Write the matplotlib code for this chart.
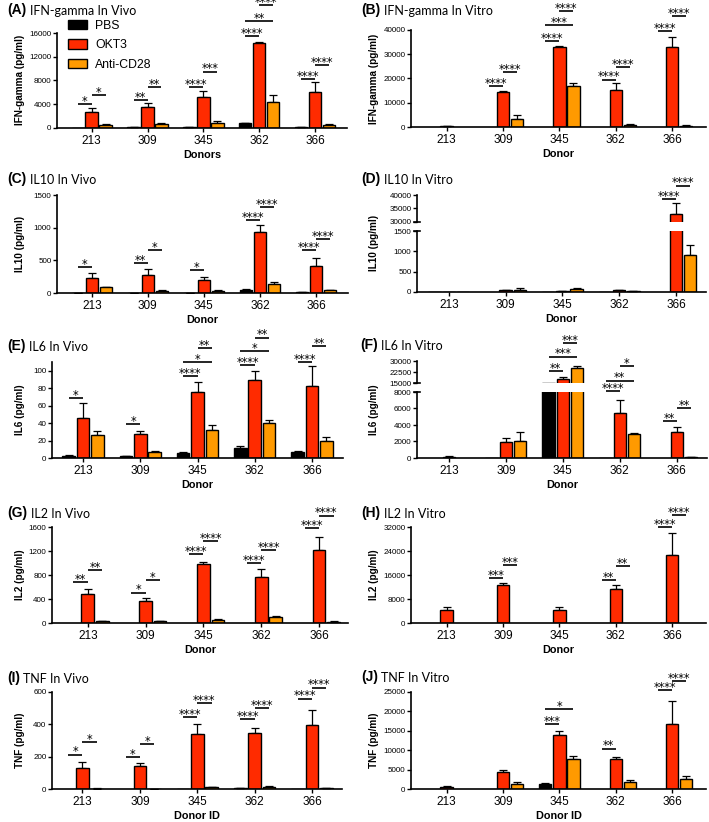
import numpy as np
import matplotlib
matplotlib.use("Agg")
import matplotlib.pyplot as plt

plt.rcParams["font.family"] = ["Liberation Sans", "DejaVu Sans"]

W, H = 709, 822

DONORS = ["213", "309", "345", "362", "366"]
GROUPS = ["PBS", "OKT3", "Anti-CD28"]
COLORS = ["#000000", "#FF2B00", "#FF9A00"]
OFFSETS = [-0.25, 0.0, 0.25]
BAR_W = 0.22

# rows of each *_MEAN / *_SD: PBS, OKT3, Anti-CD28 (SD drawn upward only)
# *_SIG entries: (donor index, group a, group b, line height, stars)

IFNG_VIVO_MEAN = [[50, 100, 100, 800, 100],
                  [2700, 3600, 5200, 14300, 6100],
                  [500, 700, 900, 4400, 500]]
IFNG_VIVO_SD = [[0, 50, 50, 100, 50],
                [700, 600, 1000, 200, 1700],
                [100, 200, 300, 1100, 200]]
IFNG_VIVO_SIG = [(0, 0, 1, 4000, "*"), (0, 1, 2, 5600, "*"),
                 (1, 0, 1, 4700, "**"), (1, 1, 2, 6850, "**"),
                 (2, 0, 1, 6850, "****"), (2, 1, 2, 9500, "***"),
                 (3, 0, 1, 15450, "****"), (3, 0, 2, 17980, "**"), (3, 1, 2, 20640, "****"),
                 (4, 0, 1, 8250, "****"), (4, 1, 2, 10630, "****")]

IFNG_VITRO_MEAN = [[0, 0, 0, 0, 0],
                   [300, 14500, 32800, 15200, 32800],
                   [0, 3300, 17000, 900, 600]]
IFNG_VITRO_SD = [[0, 0, 0, 0, 0],
                 [100, 200, 400, 3000, 4200],
                 [0, 1700, 1300, 300, 300]]
IFNG_VITRO_SIG = [(1, 0, 1, 16770, "****"), (1, 1, 2, 22680, "****"),
                  (2, 0, 1, 35330, "****"), (2, 0, 2, 41920, "***"), (2, 1, 2, 47700, "****"),
                  (3, 0, 1, 19520, "****"), (3, 1, 2, 24600, "****"),
                  (4, 0, 1, 39450, "****"), (4, 1, 2, 45640, "****")]

IL10_VIVO_MEAN = [[5, 5, 5, 45, 10],
                  [225, 280, 200, 930, 420],
                  [85, 30, 35, 140, 40]]
IL10_VIVO_SD = [[2, 2, 2, 10, 5],
                [75, 80, 50, 105, 115],
                [10, 15, 5, 35, 10]]
IL10_VIVO_SIG = [(0, 0, 1, 400, "*"), (1, 0, 1, 460, "**"), (1, 1, 2, 655, "*"),
                 (2, 0, 1, 350, "*"), (3, 0, 1, 1115, "****"), (3, 1, 2, 1320, "****"),
                 (4, 0, 1, 655, "****"), (4, 1, 2, 825, "****")]

IL10_VITRO_MEAN = [[5, 0, 5, 5, 0],
                   [5, 50, 30, 50, 33000],
                   [5, 60, 80, 30, 920]]
IL10_VITRO_SD = [[0, 0, 0, 0, 0],
                 [0, 10, 5, 10, 4000],
                 [0, 40, 10, 5, 230]]
IL10_VITRO_SIG = [(4, 0, 1, 38400, "****"), (4, 1, 2, 43500, "****")]

IL6_VIVO_MEAN = [[2, 2, 5.5, 12, 6.5],
                 [46, 27, 76, 89, 82.5],
                 [26, 6.5, 32, 40, 20]]
IL6_VIVO_SD = [[1, 0.5, 1, 2, 1],
               [17, 4, 11, 11, 22.5],
               [5, 1, 6, 4, 3.5]]
IL6_VIVO_SIG = [(0, 0, 1, 68.4, "*"), (1, 0, 1, 39.2, "*"),
                (2, 0, 1, 94.3, "****"), (2, 0, 2, 110.3, "*"), (2, 1, 2, 125.5, "**"),
                (3, 0, 1, 106.5, "****"), (3, 0, 2, 122.4, "*"), (3, 1, 2, 138, "**"),
                (4, 0, 1, 110.3, "****"), (4, 1, 2, 128.5, "**")]

IL6_VITRO_MEAN = [[0, 50, 15100, 50, 0],
                  [150, 1950, 17800, 5500, 3150],
                  [0, 2050, 25500, 2950, 100]]
IL6_VITRO_SD = [[0, 0, 0, 0, 0],
                [50, 450, 1000, 1500, 550],
                [0, 1050, 900, 100, 30]]
IL6_VITRO_SIG = [(2, 0, 1, 23080, "**"), (2, 0, 2, 33000, "***"), (2, 1, 2, 42230, "***"),
                 (3, 0, 1, 8120, "****"), (3, 0, 2, 16600, "**"), (3, 1, 2, 26540, "*"),
                 (4, 0, 1, 4470, "**"), (4, 1, 2, 6010, "**")]

IL2_VIVO_MEAN = [[0, 0, 0, 0, 0],
                 [480, 365, 980, 760, 1220],
                 [30, 30, 50, 95, 25]]
IL2_VIVO_SD = [[0, 0, 0, 0, 0],
               [90, 50, 40, 135, 220],
               [10, 10, 20, 20, 15]]
IL2_VIVO_SIG = [(0, 0, 1, 678, "**"), (0, 1, 2, 883, "**"),
                (1, 0, 1, 506, "*"), (1, 1, 2, 722, "*"),
                (2, 0, 1, 1150, "****"), (2, 1, 2, 1361, "****"),
                (3, 0, 1, 994, "****"), (3, 1, 2, 1217, "****"),
                (4, 0, 1, 1583, "****"), (4, 1, 2, 1789, "****")]

IL2_VITRO_MEAN = [[0, 0, 0, 0, 0],
                  [4500, 12800, 4500, 11200, 22800],
                  [0, 0, 0, 0, 0]]
IL2_VITRO_SD = [[0, 0, 0, 0, 0],
                [900, 500, 1000, 1600, 7200],
                [0, 0, 0, 0, 0]]
IL2_VITRO_SIG = [(1, 0, 1, 15000, "***"), (1, 1, 2, 19440, "***"),
                 (3, 0, 1, 14440, "**"), (3, 1, 2, 18890, "**"),
                 (4, 0, 1, 31890, "****"), (4, 1, 2, 36110, "****")]

TNF_VIVO_MEAN = [[0, 0, 2, 8, 2],
                 [130, 145, 340, 345, 395],
                 [3, 2, 10, 15, 5]]
TNF_VIVO_SD = [[0, 0, 0, 1, 0],
               [35, 13, 62, 35, 95],
               [1, 1, 2, 5, 1]]
TNF_VIVO_SIG = [(0, 0, 1, 213, "*"), (0, 1, 2, 290, "*"),
                (1, 0, 1, 197, "*"), (1, 1, 2, 279, "*"),
                (2, 0, 1, 447, "****"), (2, 1, 2, 534, "****"),
                (3, 0, 1, 434, "****"), (3, 1, 2, 503, "****"),
                (4, 0, 1, 559, "****"), (4, 1, 2, 627, "****")]

TNF_VITRO_MEAN = [[0, 0, 1400, 0, 0],
                  [600, 4400, 13800, 7700, 16800],
                  [0, 1300, 7800, 1700, 2600]]
TNF_VITRO_SD = [[0, 0, 200, 0, 0],
                [100, 400, 1200, 500, 6000],
                [0, 600, 600, 500, 700]]
TNF_VITRO_SIG = [(2, 0, 1, 16640, "***"), (2, 0, 2, 20690, "*"),
                 (3, 0, 1, 10430, "**"),
                 (4, 0, 1, 25430, "****"), (4, 1, 2, 27850, "****")]


fig = plt.figure(figsize=(W / 100, H / 100), dpi=100)


def px_axes(l, r, t, b):
    return fig.add_axes([l / W, 1 - b / H, (r - l) / W, (b - t) / H])


def draw_bars(ax, means, sds):
    x = np.arange(len(DONORS))
    bars = []
    for g in range(3):
        m = np.array(means[g], dtype=float)
        s = np.array(sds[g], dtype=float)
        pos = x + OFFSETS[g]
        keep = m > 0
        b = ax.bar(pos[keep], m[keep], width=BAR_W, color=COLORS[g],
                   edgecolor="black", linewidth=1.0, zorder=2, label=GROUPS[g])
        bars.append(b)
        e = s > 0
        if e.any():
            ax.errorbar(pos[e], m[e], yerr=[np.zeros(e.sum()), s[e]], fmt="none",
                        ecolor="black", elinewidth=0.9, capsize=2.6, capthick=0.9, zorder=1)
    return bars


def style_axes(ax, xlim, ylim, yticks, show_x=True):
    ax.set_xlim(*xlim)
    ax.set_ylim(*ylim)
    ax.set_yticks(yticks)
    ax.spines[["top", "right"]].set_visible(False)
    ax.spines[["left", "bottom"]].set_linewidth(1.2)
    ax.tick_params(axis="y", labelsize=5.8, length=3, width=1, pad=1)
    if show_x:
        ax.set_xticks(range(len(DONORS)), DONORS)
        ax.tick_params(axis="x", labelsize=8.5, length=3, width=1, pad=2)
    else:
        ax.spines["bottom"].set_visible(False)
        ax.set_xticks([])


def add_sig(ax, sig):
    for d, a, b, y, stars in sig:
        x0 = d + OFFSETS[a]
        x1 = d + OFFSETS[b]
        ax.plot([x0, x1], [y, y], color="black", lw=1.2, clip_on=False,
                solid_capstyle="butt", zorder=3)
        ax.annotate(stars, xy=((x0 + x1) / 2, y), xytext=(0, -0.6),
                    textcoords="offset points", ha="center", va="baseline",
                    fontsize=8.3, family="DejaVu Sans", annotation_clip=False)


def titles(ax, letter, text, x_px, base_px, ylabel, ylab_x, ylab_y, xlabel):
    t = fig.text(x_px / W, 1 - base_px / H, f"({letter})", fontsize=10,
                 fontweight="bold", va="baseline", ha="left")
    ax.annotate(text, xy=(1, 0), xycoords=t, xytext=(2.5, 0),
                textcoords="offset points", va="bottom", ha="left",
                fontsize=9, family=["Lato", "DejaVu Sans"], annotation_clip=False)
    fig.text(ylab_x / W, 1 - ylab_y / H, ylabel, rotation=90, fontsize=7.2,
             fontweight="bold", ha="center", va="center")
    ax.set_xlabel(xlabel, fontsize=7.8, fontweight="bold", labelpad=2.5)


def simple_panel(box, xlim, mean, sd, sig, ylim, yticks):
    ax = px_axes(*box)
    bars = draw_bars(ax, mean, sd)
    style_axes(ax, xlim, ylim, yticks)
    add_sig(ax, sig)
    return ax, bars


def broken_panel(l, r, hi_tb, lo_tb, xlim, mean, sd, sig, hi_lim, hi_ticks, lo_lim, lo_ticks):
    hi = px_axes(l, r, *hi_tb)
    lo = px_axes(l, r, *lo_tb)
    for ax in (hi, lo):
        draw_bars(ax, mean, sd)
    style_axes(hi, xlim, hi_lim, hi_ticks, show_x=False)
    style_axes(lo, xlim, lo_lim, lo_ticks)
    d = 3.0 / (r - l)
    hi.plot([-d, d], [0, 0], transform=hi.transAxes, color="black", lw=1.2, clip_on=False)
    lo.plot([-d, d], [1, 1], transform=lo.transAxes, color="black", lw=1.2, clip_on=False)
    add_sig(lo, [s for s in sig if s[3] < hi_lim[0]])
    add_sig(hi, [s for s in sig if s[3] >= hi_lim[0]])
    return hi, lo


XL_L = (-0.62, 4.57)
XL_R = (-0.63, 4.6)

# (A)
axA, barsA = simple_panel((57, 347, 33, 128), XL_L, IFNG_VIVO_MEAN, IFNG_VIVO_SD,
                          IFNG_VIVO_SIG, (0, 16000), [0, 4000, 8000, 12000, 16000])
titles(axA, "A", "IFN-gamma In Vivo", 7, 14, "IFN-gamma (pg/ml)", 20, 80, "Donors")
axA.legend(handles=barsA, labels=GROUPS, loc="upper left",
           bbox_to_anchor=(68 / W, 1 - 20 / H), bbox_transform=fig.transFigure,
           frameon=False, fontsize=8.8, handlelength=1.55, handleheight=0.8,
           handletextpad=0.65, labelspacing=0.6, borderpad=0, borderaxespad=0)

# (B)
axB, _ = simple_panel((411, 706, 30, 127), XL_R, IFNG_VITRO_MEAN, IFNG_VITRO_SD,
                      IFNG_VITRO_SIG, (0, 40000), [0, 10000, 20000, 30000, 40000])
titles(axB, "B", "IFN-gamma In Vitro", 361, 14, "IFN-gamma (pg/ml)", 374, 79, "Donor")

# (C)
axC, _ = simple_panel((57, 348, 195, 293), XL_L, IL10_VIVO_MEAN, IL10_VIVO_SD,
                      IL10_VIVO_SIG, (0, 1500), [0, 500, 1000, 1500])
titles(axC, "C", "IL10 In Vivo", 7, 183, "IL10 (pg/ml)", 20, 244, "Donor")

# (D)
hiD, loD = broken_panel(417, 706, (195, 222), (231, 292), (-0.56, 4.53),
                        IL10_VITRO_MEAN, IL10_VITRO_SD, IL10_VITRO_SIG,
                        (30000, 40000), [30000, 35000, 40000], (0, 1500), [0, 500, 1000, 1500])
titles(loD, "D", "IL10 In Vitro", 361, 183, "IL10 (pg/ml)", 374, 243, "Donor")

# (E)
axE, _ = simple_panel((52, 343, 362, 458), (-0.54, 4.54), IL6_VIVO_MEAN, IL6_VIVO_SD,
                      IL6_VIVO_SIG, (0, 110), [0, 20, 40, 60, 80, 100])
titles(axE, "E", "IL6 In Vivo", 7, 350, "IL6 (pg/ml)", 20, 410, "Donor")

# (F)
hiF, loF = broken_panel(417, 707, (361, 383), (392, 458), (-0.56, 4.53),
                        IL6_VITRO_MEAN, IL6_VITRO_SD, IL6_VITRO_SIG,
                        (15000, 30000), [15000, 22500, 30000], (0, 8000),
                        [0, 2000, 4000, 6000, 8000])
titles(loF, "F", "IL6 In Vitro", 360, 349, "IL6 (pg/ml)", 374, 410, "Donor")

# (G)
axG, _ = simple_panel((52, 348, 527, 623), (-0.62, 4.5), IL2_VIVO_MEAN, IL2_VIVO_SD,
                      IL2_VIVO_SIG, (0, 1600), [0, 400, 800, 1200, 1600])
titles(axG, "G", "IL2 In Vivo", 7, 517, "IL2 (pg/ml)", 20, 575, "Donor")

# (H)
axH, _ = simple_panel((411, 706, 527, 623), XL_R, IL2_VITRO_MEAN, IL2_VITRO_SD,
                      IL2_VITRO_SIG, (0, 32000), [0, 8000, 16000, 24000, 32000])
titles(axH, "H", "IL2 In Vitro", 361, 517, "IL2 (pg/ml)", 374, 575, "Donor")

# (I)
axI, _ = simple_panel((52, 342, 692, 789), (-0.53, 4.52), TNF_VIVO_MEAN, TNF_VIVO_SD,
                      TNF_VIVO_SIG, (0, 600), [0, 200, 400, 600])
titles(axI, "I", "TNF In Vivo", 7, 682, "TNF (pg/ml)", 20, 740, "Donor ID")

# (J)
axJ, _ = simple_panel((411, 706, 692, 789), XL_R, TNF_VITRO_MEAN, TNF_VITRO_SD,
                      TNF_VITRO_SIG, (0, 25000), [0, 5000, 10000, 15000, 20000, 25000])
titles(axJ, "J", "TNF In Vitro", 361, 681, "TNF (pg/ml)", 374, 740, "Donor ID")

fig.savefig("out.png", dpi=100)
